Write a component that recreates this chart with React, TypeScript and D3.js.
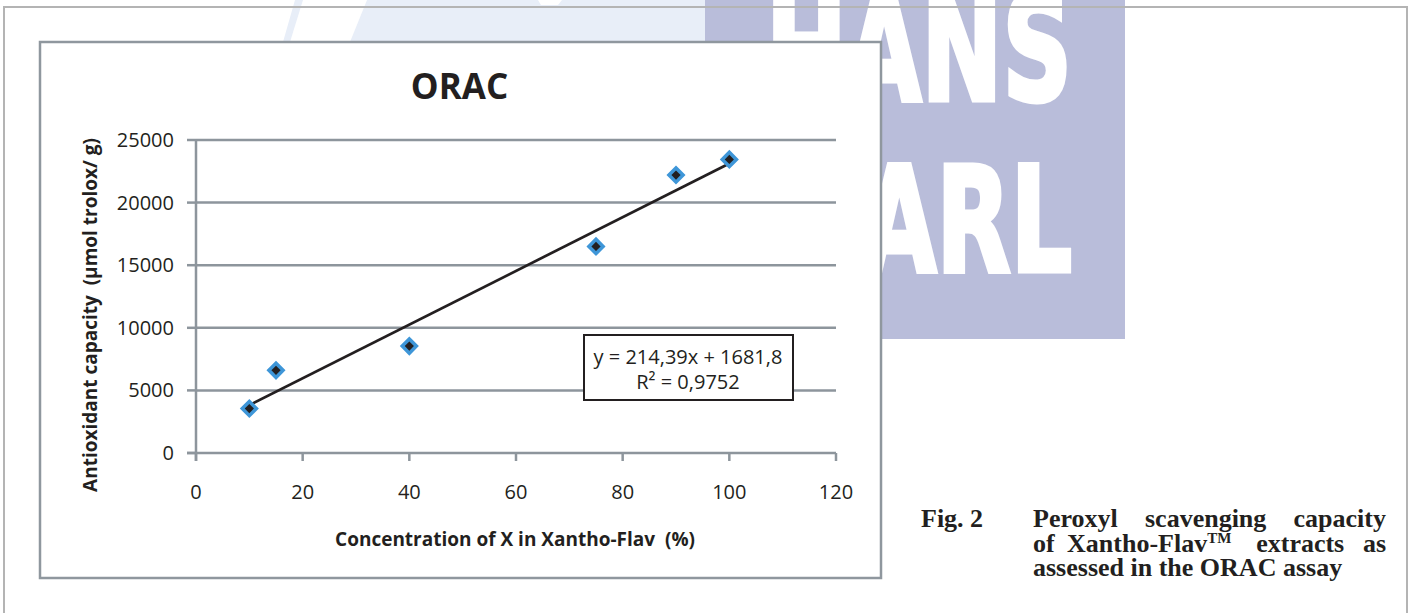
import React, { useLayoutEffect, useRef, useState } from "react";
import * as d3 from "d3";

// ---- data ----
const xValues = [10, 15, 40, 75, 90, 100];
const yValues = [3550, 6600, 8540, 16500, 22200, 23450];
const xTicks = [0, 20, 40, 60, 80, 100, 120];
const yTicks = [0, 5000, 10000, 15000, 20000, 25000];
const trendSlope = 214.39;
const trendIntercept = 1681.8;
const equationLine = "y = 214,39x + 1681,8";
const r2Line = "R² = 0,9752";
const chartTitle = "ORAC";
const xTitle = "Concentration of X in Xantho-Flav  (%)";
const yTitle = "Antioxidant capacity  (µmol trolox/ g)";
const figLabel = "Fig. 2";
const captionLine1 = ["Peroxyl", "scavenging", "capacity"];
const captionLine2 = ["of", "Xantho-Flav", "extracts", "as"];
const captionLine3 = ["assessed in the ORAC assay"];
const trademark = "TM";
const trademarkWordIndex = 1;
const watermarkTop = "HANS";
const watermarkBottom = "ARL";

const INK = "#231f20";
const GRID = "#8d959c";
const SANS = "'Open Sans', 'Noto Sans', sans-serif";
const SERIF = "'Liberation Serif', 'Times New Roman', serif";

function CaptionLine({ words, x0, x1, y, size, justify, supIndex, gapWeights }) {
  const refs = useRef([]);
  const [xs, setXs] = useState(null);
  useLayoutEffect(() => {
    if (!justify) return;
    const widths = refs.current.map((el) => (el ? el.getComputedTextLength() : 0));
    const total = widths.reduce((a, b) => a + b, 0);
    const weights = gapWeights || words.slice(1).map(() => 1);
    const wsum = weights.reduce((a, b) => a + b, 0) || 1;
    const free = x1 - x0 - total;
    let cx = x0;
    const out = [];
    widths.forEach((w, i) => {
      out.push(cx);
      cx += w + (i < weights.length ? (free * weights[i]) / wsum : 0);
    });
    setXs(out);
  }, []);
  let fallback = x0;
  return (
    <g>
      {words.map((w, i) => {
        const px = xs ? xs[i] : fallback;
        fallback += w.length * size * 0.5 + size * 0.3;
        return (
          <text
            key={i}
            ref={(el) => (refs.current[i] = el)}
            x={px}
            y={y}
            fontFamily={SERIF}
            fontWeight="bold"
            fontSize={size}
            fill={INK}
          >
            {w}
            {supIndex === i ? (
              <tspan dy={-9} fontSize={15}>
                {trademark}
              </tspan>
            ) : null}
          </text>
        );
      })}
    </g>
  );
}

export default function App() {
  const x = d3.scaleLinear().domain([0, 120]).range([196, 836]);
  const y = d3.scaleLinear().domain([0, 25000]).range([453, 140]);
  const diamond = d3.symbol().type(d3.symbolSquare).size(100)();
  const tx = d3.extent(xValues);
  const trend = d3.line()(tx.map((v) => [x(v), y(trendSlope * v + trendIntercept)]));

  return (
    <svg
      width={1412}
      height={613}
      viewBox="0 0 1412 613"
      style={{ position: "absolute", left: 0, top: 0, display: "block" }}
    >
      <rect x={0} y={0} width={1412} height={613} fill="#ffffff" />

      {/* watermark */}
      <polygon points="283,42 295,0 705,0 705,42" fill="#e8eef8" />
      <polygon points="290,42 303,0 367,0 350,42" fill="#ffffff" />
      <polygon points="538,0 562,0 558,5 541,5" fill="#ffffff" />
      <defs>
        <clipPath id="wm">
          <rect x={705} y={0} width={420} height={339} />
        </clipPath>
      </defs>
      <rect x={705} y={0} width={420} height={339} fill="#b9bdda" />
      <g
        clipPath="url(#wm)"
        fill="#ffffff"
        stroke="#ffffff"
        strokeWidth={5}
        strokeLinejoin="miter"
        fontFamily="'DejaVu Sans', sans-serif"
        fontWeight="bold"
        fontSize={146}
      >
        <text x={766} y={100} textLength={306} lengthAdjust="spacingAndGlyphs">
          {watermarkTop}
        </text>
        <text x={862} y={271} textLength={210} lengthAdjust="spacingAndGlyphs">
          {watermarkBottom}
        </text>
      </g>

      {/* outer frame */}
      <rect x={4} y={7} width={1403} height={700} fill="none" stroke="#b4b4b4" strokeWidth={2} />

      {/* chart frame */}
      <rect x={40} y={42} width={841} height={536} fill="#ffffff" stroke="#8f979e" strokeWidth={2.5} />

      <text x={459.5} y={99} textAnchor="middle" fontFamily={SANS} fontWeight="bold" fontSize={35} fill={INK}>
        {chartTitle}
      </text>

      {/* gridlines */}
      {yTicks.filter((v) => v > 0).map((v) => (
        <line key={"g" + v} x1={x(0)} x2={x(120)} y1={y(v)} y2={y(v)} stroke={GRID} strokeWidth={2.5} />
      ))}
      {/* axes */}
      <line x1={x(0)} x2={x(0)} y1={y(25000)} y2={y(0) + 8} stroke={GRID} strokeWidth={2.5} />
      <line x1={x(0) - 9} x2={x(120)} y1={y(0)} y2={y(0)} stroke={GRID} strokeWidth={2.5} />
      {yTicks.map((v) => (
        <line key={"yt" + v} x1={x(0) - 9} x2={x(0)} y1={y(v)} y2={y(v)} stroke={GRID} strokeWidth={2.5} />
      ))}
      {xTicks.map((v) => (
        <line key={"xt" + v} x1={x(v)} x2={x(v)} y1={y(0)} y2={y(0) + 8} stroke={GRID} strokeWidth={2.5} />
      ))}
      {yTicks.map((v) => (
        <text key={"yl" + v} x={174} y={y(v) + 7} textAnchor="end" fontFamily={SANS} fontSize={20} fill={INK}>
          {v}
        </text>
      ))}
      {xTicks.map((v) => (
        <text key={"xl" + v} x={x(v)} y={499} textAnchor="middle" fontFamily={SANS} fontSize={20} fill={INK}>
          {v}
        </text>
      ))}

      {/* trend line */}
      <path d={trend} fill="none" stroke={INK} strokeWidth={2.7} />

      {/* markers */}
      {xValues.map((v, i) => (
        <path
          key={"m" + i}
          d={diamond}
          transform={`translate(${x(v)},${y(yValues[i])}) rotate(45)`}
          fill={INK}
          stroke="#3e96d8"
          strokeWidth={3.5}
        />
      ))}

      {/* equation box */}
      <rect x={584} y={335} width={209} height={65} fill="#ffffff" stroke={INK} strokeWidth={2} />
      <text x={688} y={363.5} textAnchor="middle" fontFamily={SANS} fontSize={20} fill={INK}>
        {equationLine}
      </text>
      <text x={688} y={389} textAnchor="middle" fontFamily={SANS} fontSize={20} fill={INK}>
        {r2Line}
      </text>

      {/* axis titles */}
      <text
        x={515}
        y={546}
        textAnchor="middle"
        fontFamily={SANS}
        fontWeight="bold"
        fontSize={19}
        fill={INK}
        style={{ whiteSpace: "pre" }}
      >
        {xTitle}
      </text>
      <text
        transform="translate(97,315) rotate(-90)"
        textAnchor="middle"
        fontFamily={SANS}
        fontWeight="bold"
        fontSize={19}
        fill={INK}
        style={{ whiteSpace: "pre" }}
      >
        {yTitle}
      </text>

      {/* caption */}
      <text x={921} y={527} fontFamily={SERIF} fontWeight="bold" fontSize={26} fill={INK}>
        {figLabel}
      </text>
      <CaptionLine words={captionLine1} x0={1033} x1={1386} y={527} size={26} justify={true} />
      <CaptionLine
        words={captionLine2}
        x0={1033}
        x1={1386}
        y={551.5}
        size={26}
        justify={true}
        supIndex={trademarkWordIndex}
        gapWeights={[1, 2, 1.5]}
      />
      <CaptionLine words={captionLine3} x0={1033} x1={1386} y={576} size={26} justify={false} />
    </svg>
  );
}
